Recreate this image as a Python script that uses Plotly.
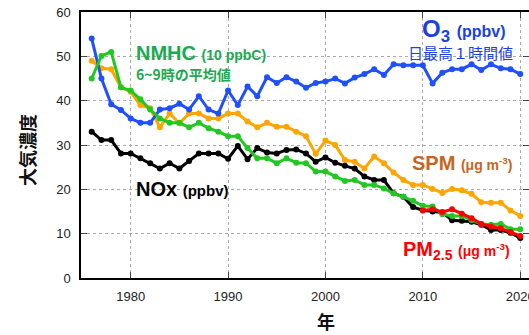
import plotly.graph_objects as go

years = list(range(1976, 2021))
o3 = [54, 45, 39.2, 37.9, 36, 35, 35, 38, 38.3, 39.3, 38, 41, 38, 37.1, 42.3, 39, 43.2, 41, 45.3, 44,
      45.3, 44.3, 42.9, 44, 44.3, 45, 43.9, 45.2, 46, 47.1, 45.8, 48.2, 48, 48, 48, 43.9, 46.3, 47.1,
      47.1, 48.2, 46.9, 48.2, 47.3, 47.1, 46]
spm = [49, 47.3, 47.1, 43, 42, 39, 38.3, 34, 37.1, 34.9, 37.1, 37.1, 36, 36, 37.1, 37.1, 35.3, 34,
       35, 34.1, 34.1, 33, 32, 28, 31, 30, 26.6, 26.2, 24.7, 27.4, 25.9, 23.8, 22.1, 21, 21, 20.1,
       19.2, 20.1, 19.8, 19, 17.1, 17, 17, 15.2, 14]
nmhc = [45, 50.1, 51, 43, 42.3, 40.3, 38, 36, 35, 35, 34, 35, 33.8, 33, 32, 32, 29.3, 27, 27, 25.9,
        27, 26, 25.9, 24, 24, 22.9, 21.9, 22.1, 21, 21, 20.2, 19.1, 18.3, 17.4, 16.3, 16.1, 14.4,
        14, 14, 13.1, 12.2, 12, 12.2, 11, 11]
nox = [33, 31.1, 31.1, 28.1, 28.1, 27, 25.9, 24.7, 25.9, 24.7, 26.4, 28.1, 28.1, 28.1, 26.9, 29.8,
       26.8, 29.3, 28.3, 28.1, 28.9, 29, 28.1, 26.2, 27.2, 26, 25.3, 24.7, 22.9, 22.1, 22.1, 19.1,
       18.3, 16, 15.3, 15, 14.8, 13, 12.9, 12.7, 12, 10.8, 10.8, 10.2, 9]
pm_years = list(range(2010, 2021))
pm25 = [15.2, 15.5, 14.9, 15.5, 14.5, 13.5, 12.2, 11.6, 11.2, 10.4, 9.5]

x_ticks = [1980, 1990, 2000, 2010, 2020]
y_ticks = [0, 10, 20, 30, 40, 50, 60]

fig = go.Figure()

def add(xs, ys, color):
    fig.add_trace(go.Scatter(x=xs, y=ys, mode="lines+markers",
                             line=dict(color=color, width=3),
                             marker=dict(color=color, size=6),
                             showlegend=False, hoverinfo="skip", cliponaxis=False))

add(years, spm, "#FFA500")
add(years, o3, "#1F4FFF")
add(years, nox, "#000000")
add(years, nmhc, "#22C822")
add(pm_years, pm25, "#FF0000")

L, R, T, B = 81, 529, 12, 278
def px(x):
    return (x - L) / (R - L)
def py(y):
    return (B - y) / (B - T)

ann = []
def a(text, x, y, color, size, xanchor="left", font="Liberation Sans, Arial, sans-serif"):
    ann.append(dict(text=text, x=px(x), y=py(y), xref="paper", yref="paper", showarrow=False,
                    xanchor=xanchor, yanchor="middle", font=dict(color=color, size=size, family=font)))

jp = "Noto Sans CJK JP, sans-serif"
a("<b>NMHC</b> <b><span style='font-size:14px'>(10 ppbC)</span></b>", 134, 53, "#1AAA50", 20)
a("<b>6~9時の平均値</b>", 134, 74, "#1AAA50", 14, font=jp)
a("<b>O<sub>3</sub></b> <b><span style='font-size:16px'>(ppbv)</span></b>", 420, 31, "#1A3FE6", 24)
a("日最高１時間値", 406, 52, "#1A3FE6", 15, font=jp)
a("<b>SPM</b> <b><span style='font-size:14px'>(μg m<sup>-3</sup>)</span></b>", 410, 163, "#C8641E", 20)
a("<b>NOx</b> <b><span style='font-size:15px'>(ppbv)</span></b>", 134, 189, "#000000", 20)
a("<b>PM<sub>2.5</sub></b> <b><span style='font-size:14px'>(μg m<sup>-3</sup>)</span></b>", 401, 250, "#FF0000", 20)
ann.append(dict(text="<b>大気濃度</b>", x=px(27), y=py(150), xref="paper", yref="paper",
                xanchor="center", yanchor="middle",
                showarrow=False, textangle=-90, font=dict(size=18, color="#111", family=jp)))
ann.append(dict(text="<b>年</b>", x=px(326), y=py(321), xref="paper", yref="paper",
                xanchor="center", yanchor="middle",
                showarrow=False, font=dict(size=18, color="#111", family=jp)))

fig.update_layout(
    width=529, height=335,
    margin=dict(l=L, r=529 - R, t=T, b=335 - B, autoexpand=False),
    paper_bgcolor="white", plot_bgcolor="white",
    annotations=ann,
    font=dict(family="Liberation Sans, Arial, sans-serif", size=13, color="#222"),
)
fig.update_xaxes(range=[1974.9, 2020.9], tickvals=x_ticks, ticks="inside", ticklen=6,
                 showline=True, linecolor="black", linewidth=1.5, mirror="ticks",
                 showgrid=True, gridcolor="#AAAAAA", griddash="dot", gridwidth=1,
                 zeroline=False, tickfont=dict(size=13, color="#222"), automargin=False,
                 ticklabelstandoff=6, ticklabeloverflow="allow")
fig.update_yaxes(range=[0, 60], tickvals=y_ticks, ticks="inside", ticklen=6,
                 showline=True, linecolor="black", linewidth=1.5, mirror="ticks",
                 showgrid=True, gridcolor="#AAAAAA", griddash="dot", gridwidth=1,
                 zeroline=False, tickfont=dict(size=13, color="#222"), automargin=False,
                 ticklabelstandoff=6)

fig.write_html("out.html", config={"displayModeBar": False},
               post_script="document.body.style.margin='0';document.body.style.overflow='hidden';")
